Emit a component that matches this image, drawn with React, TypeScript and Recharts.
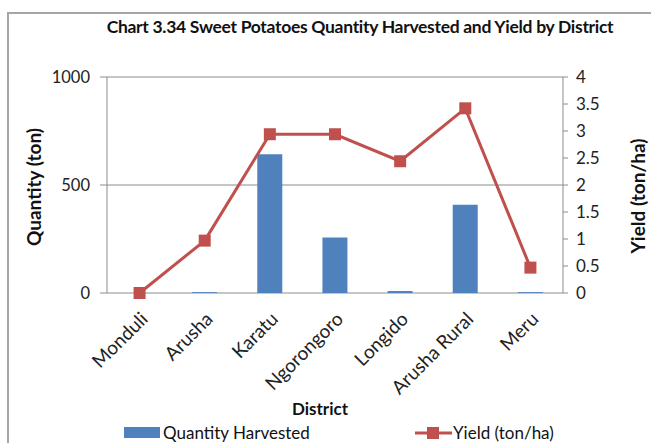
import { ComposedChart, Bar, Line, XAxis, YAxis, CartesianGrid, Label } from "recharts";

const districts = ["Monduli", "Arusha", "Karatu", "Ngorongoro", "Longido", "Arusha Rural", "Meru"];
const quantity = [0, 4, 642, 257, 9, 408, 4];
const yieldTonHa = [0, 0.97, 2.94, 2.94, 2.44, 3.42, 0.47];
const leftTicks = [0, 500, 1000];
const rightTicks = [0, 0.5, 1, 1.5, 2, 2.5, 3, 3.5, 4];
const edgeTicks = [0, 1, 2, 3, 4, 5, 6, 7];

const data = districts.map((d, i) => ({ district: d, quantity: quantity[i], yield: yieldTonHa[i] }));

const FONT = "Lato, 'Open Sans', sans-serif";
const AXIS = "#8c8c8c";
const BLUE = "#4f81bd";
const RED = "#c0504d";

function DistrictTick({ x, y, payload }: any) {
  const tx = x + 4;
  const ty = y + 14;
  return (
    <text
      x={tx}
      y={ty}
      textAnchor="end"
      dominantBaseline="central"
      transform={`rotate(-45, ${tx}, ${ty})`}
      fill="#222"
      fontSize={19}
      fontFamily={FONT}
    >
      {payload.value}
    </text>
  );
}

function SquareDot({ cx, cy }: any) {
  if (cx == null || cy == null) return null;
  return <rect x={cx - 6} y={cy - 6} width={12} height={12} fill={RED} />;
}

export default function App() {
  return (
    <div style={{ position: "absolute", left: 0, top: 0, width: 651, height: 443, background: "#fff", overflow: "hidden", fontFamily: FONT }}>
      <div style={{ position: "absolute", left: 7, top: 12, width: 700, height: 500, borderLeft: "2px solid #a6a6a6", borderTop: "2px solid #a6a6a6" }} />
      <div style={{ position: "absolute", left: 0, top: 16, width: 720, textAlign: "center", fontWeight: 700, fontSize: 17.5, color: "#111", letterSpacing: -0.3 }}>
        Chart 3.34 Sweet Potatoes Quantity Harvested and Yield by District
      </div>
      <div style={{ position: "absolute", top: 0, left: 0 }}>
        <ComposedChart width={651} height={443} data={data} margin={{ top: 77, right: 0, bottom: 0, left: 0 }}>
          <CartesianGrid horizontal vertical={false} stroke={AXIS} yAxisId="left" xAxisId="cat" />
          <XAxis
            xAxisId="edges"
            type="number"
            domain={[0, 7]}
            ticks={edgeTicks}
            height={0}
            axisLine={{ stroke: AXIS }}
            tickLine={{ stroke: AXIS }}
            tickSize={6}
            tickFormatter={() => ""}
          />
          <XAxis
            xAxisId="cat"
            dataKey="district"
            height={150}
            interval={0}
            axisLine={false}
            tickLine={false}
            tick={<DistrictTick />}
          >
            <Label
              content={() => (
                <text x={320} y={408} textAnchor="middle" dominantBaseline="central" fontWeight={700} fontSize={17} fontFamily={FONT} fill="#111">
                  District
                </text>
              )}
            />
          </XAxis>
          <YAxis
            yAxisId="left"
            width={107}
            domain={[0, 1000]}
            ticks={leftTicks}
            axisLine={{ stroke: AXIS }}
            tickLine={{ stroke: AXIS }}
            tickSize={7}
            tickMargin={10}
            tick={{ fill: "#222", fontSize: 16.5, fontFamily: FONT }}
          >
            <Label
              content={() => (
                <text x={33} y={187} textAnchor="middle" dominantBaseline="central" transform="rotate(-90, 33, 187)" fontWeight={700} fontSize={19} fontFamily={FONT} fill="#111">
                  Quantity (ton)
                </text>
              )}
            />
          </YAxis>
          <YAxis
            yAxisId="right"
            orientation="right"
            width={88}
            domain={[0, 4]}
            ticks={rightTicks}
            axisLine={{ stroke: AXIS }}
            tickLine={{ stroke: AXIS }}
            tickSize={5}
            tickMargin={8}
            tick={{ fill: "#222", fontSize: 17, fontFamily: FONT, textAnchor: "start" }}
          >
            <Label
              content={() => (
                <text x={637} y={196} textAnchor="middle" dominantBaseline="central" transform="rotate(-90, 637, 196)" fontWeight={700} fontSize={19} fontFamily={FONT} fill="#111">
                  Yield (ton/ha)
                </text>
              )}
            />
          </YAxis>
          <Bar xAxisId="cat" yAxisId="left" dataKey="quantity" fill={BLUE} barSize={25} isAnimationActive={false} name="Quantity Harvested" />
          <Line
            xAxisId="cat"
            yAxisId="right"
            dataKey="yield"
            stroke={RED}
            strokeWidth={3}
            dot={<SquareDot />}
            activeDot={false}
            isAnimationActive={false}
            name="Yield (ton/ha)"
          />
        </ComposedChart>
      </div>
      <div style={{ position: "absolute", top: 422, left: 124, display: "flex", alignItems: "center", fontSize: 17, color: "#111" }}>
        <span style={{ display: "inline-block", width: 36, height: 11, background: BLUE, marginRight: 3 }} />
        <span>Quantity Harvested</span>
      </div>
      <div style={{ position: "absolute", top: 422, left: 415, display: "flex", alignItems: "center", fontSize: 17, color: "#111" }}>
        <svg width={37} height={14} style={{ marginRight: 1 }}>
          <line x1={0} y1={7} x2={37} y2={7} stroke={RED} strokeWidth={3} />
          <rect x={12} y={1} width={12} height={12} fill={RED} />
        </svg>
        <span>Yield (ton/ha)</span>
      </div>
    </div>
  );
}
